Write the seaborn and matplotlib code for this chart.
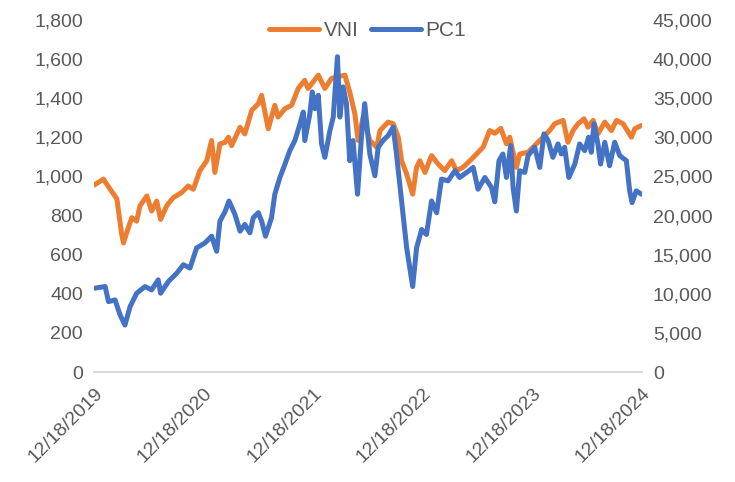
import seaborn as sns
import pandas as pd
import matplotlib.pyplot as plt
import matplotlib.ticker as mticker

vni_dates = [
    "2019-12-18", "2020-01-18", "2020-02-09", "2020-03-03", "2020-03-19", "2020-03-25",
    "2020-04-10", "2020-04-22", "2020-05-08", "2020-05-19", "2020-06-11", "2020-06-27",
    "2020-07-14", "2020-07-27", "2020-08-16", "2020-09-07", "2020-10-05", "2020-10-27",
    "2020-11-13", "2020-12-05", "2020-12-28", "2021-01-13", "2021-01-24", "2021-02-10",
    "2021-02-27", "2021-03-10", "2021-03-21", "2021-04-18", "2021-05-04", "2021-05-27",
    "2021-06-18", "2021-06-29", "2021-07-21", "2021-08-12", "2021-08-23", "2021-09-15",
    "2021-10-07", "2021-10-29", "2021-11-20", "2021-12-01", "2022-01-04", "2022-01-26",
    "2022-02-17", "2022-03-11", "2022-04-03", "2022-04-19", "2022-05-06", "2022-05-17",
    "2022-06-03", "2022-06-25", "2022-07-18", "2022-07-29", "2022-08-25", "2022-09-11",
    "2022-09-28", "2022-10-09", "2022-10-26", "2022-11-15", "2022-11-28", "2022-12-09",
    "2022-12-26", "2023-01-17", "2023-02-08", "2023-03-02", "2023-03-25", "2023-04-10",
    "2023-05-02", "2023-05-25", "2023-06-16", "2023-07-08", "2023-07-30", "2023-08-16",
    "2023-09-05", "2023-09-24", "2023-10-05", "2023-10-27", "2023-11-07", "2023-12-05",
    "2024-01-07", "2024-01-30", "2024-02-15", "2024-03-03", "2024-03-31", "2024-04-16",
    "2024-05-03", "2024-05-20", "2024-06-09", "2024-06-22", "2024-07-09", "2024-07-25",
    "2024-08-17", "2024-09-08", "2024-09-25", "2024-10-17", "2024-11-14", "2024-11-25",
    "2024-12-17",
]
vni_values = [
    955, 986, 936, 885, 705, 660,
    737, 789, 771, 849, 900, 823,
    874, 780, 849, 891, 917, 951,
    934, 1029, 1080, 1183, 1020, 1166,
    1174, 1200, 1157, 1251, 1217, 1337,
    1371, 1414, 1243, 1363, 1303, 1346,
    1363, 1449, 1491, 1449, 1517, 1449,
    1500, 1509, 1517, 1431, 1320, 1183,
    1303, 1183, 1149, 1234, 1277, 1269,
    1200, 1080, 1011, 909, 1046, 1080,
    1020, 1106, 1063, 1029, 1080, 1029,
    1046, 1080, 1114, 1149, 1234, 1220,
    1245, 1166, 1200, 1046, 1114, 1123,
    1174, 1209, 1234, 1269, 1286, 1174,
    1234, 1269, 1294, 1251, 1286, 1217,
    1277, 1234, 1286, 1269, 1200, 1243,
    1260,
]

pc1_dates = [
    "2019-12-18", "2020-01-24", "2020-02-04", "2020-02-26", "2020-03-14", "2020-03-30",
    "2020-04-16", "2020-05-08", "2020-06-05", "2020-06-27", "2020-07-19", "2020-07-27",
    "2020-08-22", "2020-09-19", "2020-10-11", "2020-11-02", "2020-11-24", "2020-12-22",
    "2021-01-13", "2021-01-30", "2021-02-10", "2021-02-27", "2021-03-12", "2021-04-01",
    "2021-04-18", "2021-05-04", "2021-05-21", "2021-06-01", "2021-06-18", "2021-06-29",
    "2021-07-12", "2021-08-01", "2021-08-12", "2021-08-29", "2021-09-15", "2021-10-01",
    "2021-10-18", "2021-11-04", "2021-11-15", "2021-11-20", "2021-12-07", "2021-12-15",
    "2021-12-24", "2022-01-04", "2022-01-15", "2022-01-26", "2022-02-12", "2022-02-23",
    "2022-03-09", "2022-03-17", "2022-03-28", "2022-04-08", "2022-04-19", "2022-04-30",
    "2022-05-15", "2022-05-28", "2022-06-08", "2022-06-25", "2022-07-12", "2022-07-23",
    "2022-08-08", "2022-08-25", "2022-09-11", "2022-09-22", "2022-10-09", "2022-10-26",
    "2022-11-15", "2022-11-28", "2022-12-15", "2022-12-31", "2023-01-17", "2023-02-03",
    "2023-02-19", "2023-03-13", "2023-04-05", "2023-04-21", "2023-05-14", "2023-06-05",
    "2023-06-21", "2023-07-14", "2023-08-05", "2023-08-16", "2023-08-30", "2023-09-12",
    "2023-09-24", "2023-10-08", "2023-10-16", "2023-10-27", "2023-11-07", "2023-11-24",
    "2023-12-05", "2023-12-27", "2024-01-13", "2024-01-27", "2024-02-10", "2024-02-26",
    "2024-03-14", "2024-03-25", "2024-04-05", "2024-04-19", "2024-05-09", "2024-05-25",
    "2024-06-11", "2024-06-24", "2024-07-03", "2024-07-12", "2024-07-25", "2024-08-03",
    "2024-08-17", "2024-09-02", "2024-09-19", "2024-10-06", "2024-10-28", "2024-11-08",
    "2024-11-16", "2024-11-30", "2024-12-18",
]
pc1_values = [
    10710, 10928, 9000, 9214, 7286, 6000,
    8357, 10071, 10928, 10500, 11786, 10071,
    11571, 12643, 13714, 13286, 15857, 16500,
    17357, 15428, 19286, 20500, 21857, 20143,
    18000, 18857, 17786, 19714, 20357, 19286,
    17357, 19714, 22714, 24857, 26571, 28286,
    29571, 31714, 33214, 29571, 33000, 35786,
    33643, 35357, 29143, 27428, 30857, 32571,
    40286, 32571, 36428, 34286, 27000, 29571,
    22714, 30000, 34286, 27857, 25071, 28714,
    29571, 30214, 31286, 27857, 21857, 15857,
    10928, 15857, 18214, 17571, 21857, 20357,
    24643, 24428, 25714, 24857, 25500, 26143,
    23357, 24857, 23571, 21750, 27000, 27857,
    24857, 28928, 23571, 20571, 25714, 25500,
    27643, 28714, 26143, 30428, 29571, 27428,
    29143, 27857, 28714, 24857, 26571, 29143,
    28286, 30000, 28071, 31714, 29143, 26571,
    29357, 26357, 29357, 27643, 27000, 23143,
    21643, 23143, 22714,
]

tick_dates = ["2019-12-18", "2020-12-18", "2021-12-18", "2022-12-18", "2023-12-18", "2024-12-18"]

vni_df = pd.DataFrame({"date": pd.to_datetime(vni_dates), "VNI": vni_values})
pc1_df = pd.DataFrame({"date": pd.to_datetime(pc1_dates), "PC1": pc1_values})

sns.set_style("white")
plt.rcParams['font.family'] = ['Liberation Sans', 'DejaVu Sans']

orange = '#ED7D31'
blue = '#4472C4'
grey = '#595959'

fig, ax = plt.subplots(figsize=(7.35, 4.82), dpi=100)
fig.subplots_adjust(left=0.128, right=0.873, top=0.959, bottom=0.228)
ax2 = ax.twinx()

sns.lineplot(data=vni_df, x="date", y="VNI", ax=ax, color=orange, linewidth=3.6, label="VNI",
             legend=False, solid_joinstyle='round', solid_capstyle='round')
sns.lineplot(data=pc1_df, x="date", y="PC1", ax=ax2, color=blue, linewidth=3.6, label="PC1",
             legend=False, solid_joinstyle='round', solid_capstyle='round')

ax.set_ylim(0, 1800)
ax2.set_ylim(0, 45000)
ax.set_yticks(range(0, 1801, 200))
ax2.set_yticks(range(0, 45001, 5000))
fmt = mticker.FuncFormatter(lambda v, p: f"{int(v):,}")
ax.yaxis.set_major_formatter(fmt)
ax2.yaxis.set_major_formatter(fmt)

ticks = pd.to_datetime(tick_dates)
ax.set_xlim(ticks[0], ticks[-1])
ax.set_xticks(ticks)
ax.set_xticklabels([t.strftime("%m/%d/%Y") for t in ticks], rotation=45, ha='right',
                   rotation_mode='anchor')

ax.set_xlabel("")
ax.set_ylabel("")
ax2.set_ylabel("")

for a in (ax, ax2):
    for s in ('left', 'right', 'top'):
        a.spines[s].set_visible(False)
    a.spines['bottom'].set_color('#D9D9D9')
    a.spines['bottom'].set_linewidth(1.2)
    a.tick_params(axis='y', length=0, labelsize=14, labelcolor=grey, pad=8)
ax.tick_params(axis='x', length=5, width=1.2, color='#D9D9D9', labelsize=14, labelcolor=grey, pad=4)

handles = ax.get_lines()[:1] + ax2.get_lines()[:1]
fig.legend(handles, ["VNI", "PC1"], loc='upper center', bbox_to_anchor=(0.5, 0.995), ncol=2,
           frameon=False, fontsize=15, handlelength=2.4, handletextpad=0.2, columnspacing=0.6,
           labelcolor=grey)

fig.savefig("out.png", dpi=100)
